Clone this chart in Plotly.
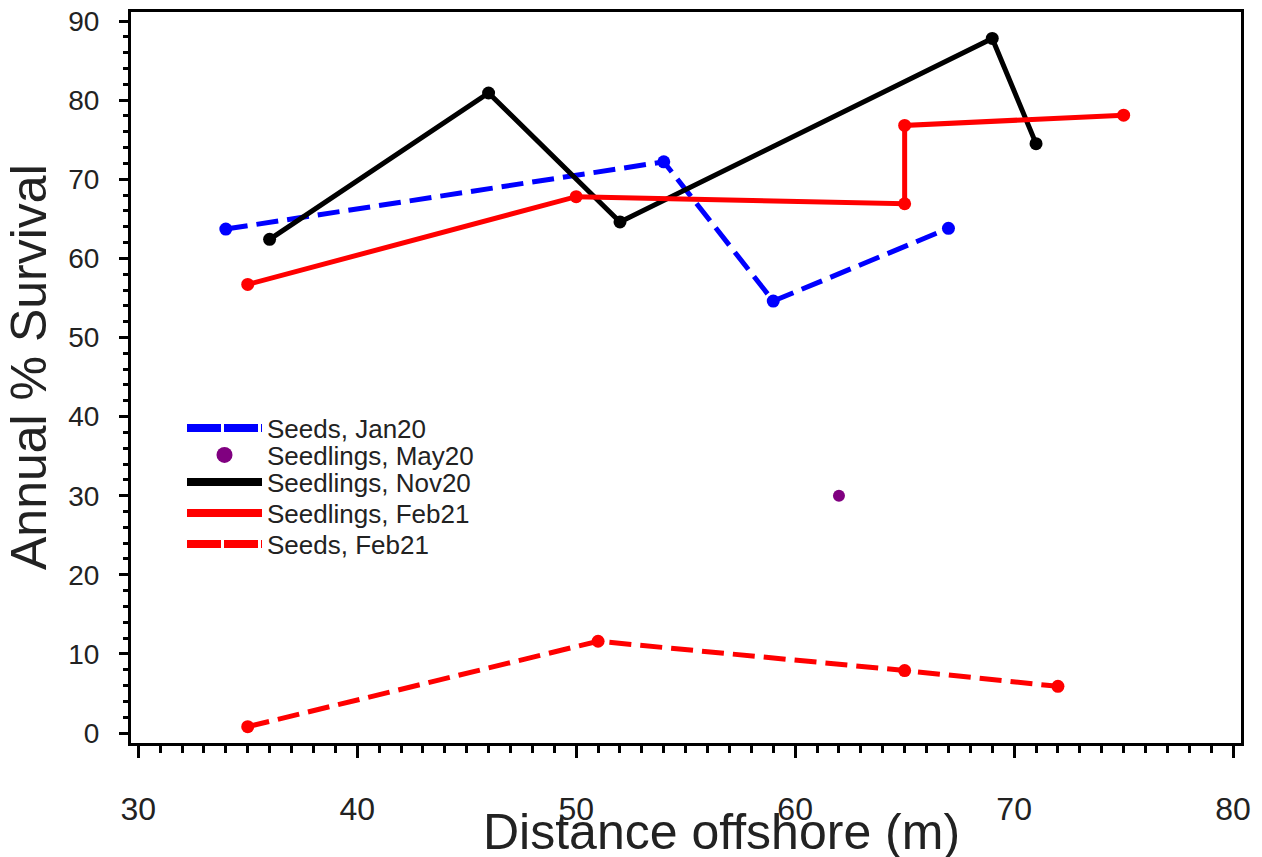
import plotly.graph_objects as go

# Data
seeds_jan20_x = [34, 54, 59, 67]
seeds_jan20_y = [63.7, 72.2, 54.6, 63.8]

seedlings_may20_x = [62]
seedlings_may20_y = [30]

seedlings_nov20_x = [36, 46, 52, 69, 71]
seedlings_nov20_y = [62.4, 80.9, 64.6, 87.8, 74.5]

seedlings_feb21_x = [35, 50, 65, 65, 75]
seedlings_feb21_y = [56.7, 67.8, 66.9, 76.8, 78.1]

seeds_feb21_x = [35, 51, 65, 72]
seeds_feb21_y = [0.8, 11.6, 7.9, 5.9]

x_ticks = [30, 40, 50, 60, 70, 80]
y_ticks = [0, 10, 20, 30, 40, 50, 60, 70, 80, 90]

x_title = "Distance offshore (m)"
y_title = "Annual % Survival"

FONT = "Liberation Sans, Arial, sans-serif"
TXT = "#222222"
DASH = "22px,9px"

fig = go.Figure()

series = [
    ("Seeds, Jan20", seeds_jan20_x, seeds_jan20_y, "blue", DASH),
    ("Seedlings, Nov20", seedlings_nov20_x, seedlings_nov20_y, "black", "solid"),
    ("Seedlings, Feb21", seedlings_feb21_x, seedlings_feb21_y, "red", "solid"),
    ("Seeds, Feb21", seeds_feb21_x, seeds_feb21_y, "red", DASH),
]
for name, xs, ys, col, dash in series:
    fig.add_trace(go.Scatter(x=xs, y=ys, mode="lines+markers", name=name,
                             line=dict(color=col, width=5, dash=dash),
                             marker=dict(color=col, size=13),
                             showlegend=False))

fig.add_trace(go.Scatter(x=seedlings_may20_x, y=seedlings_may20_y, mode="markers",
                         name="Seedlings, May20",
                         marker=dict(color="purple", size=12), showlegend=False))

# legend entries (each in its own legend box for exact spacing)
legend_items = [
    ("Seeds, Jan20", dict(mode="lines", line=dict(color="blue", width=8, dash="34px,3px"))),
    ("Seedlings, May20", dict(mode="markers", marker=dict(color="purple", size=17))),
    ("Seedlings, Nov20", dict(mode="lines", line=dict(color="black", width=8))),
    ("Seedlings, Feb21", dict(mode="lines", line=dict(color="red", width=8))),
    ("Seeds, Feb21", dict(mode="lines", line=dict(color="red", width=8, dash="34px,3px"))),
]
legend_centers_px = [428, 455, 482, 513, 544]
PLOT_LEFT, PLOT_RIGHT = 131, 1241
PLOT_TOP, PLOT_BOTTOM = 12, 743
PW, PH = PLOT_RIGHT - PLOT_LEFT, PLOT_BOTTOM - PLOT_TOP
layout_legends = {}
for i, ((name, kw), cy) in enumerate(zip(legend_items, legend_centers_px)):
    key = "legend" if i == 0 else f"legend{i+1}"
    fig.add_trace(go.Scatter(x=[None], y=[None], name=name, legend=key, **kw))
    layout_legends[key] = dict(
        x=(182 - PLOT_LEFT) / PW, y=(PLOT_BOTTOM - cy) / PH,
        xanchor="left", yanchor="middle",
        font=dict(size=26, color=TXT, family=FONT), bgcolor="rgba(0,0,0,0)",
        itemwidth=75, borderwidth=0)

fig.update_layout(
    width=1254, height=849,
    margin=dict(l=123, r=21, t=4, b=114),
    paper_bgcolor="white", plot_bgcolor="white",
    font=dict(family=FONT, color=TXT),
    showlegend=True,
    xaxis=dict(range=[29.67, 80.36], tickvals=x_ticks, showgrid=False, zeroline=False,
               automargin=False, ticklabeloverflow="allow",
               showline=True, linecolor="black", linewidth=3, mirror=True,
               ticks="outside", ticklen=12, tickwidth=3, tickcolor="black",
               minor=dict(dtick=1, ticks="outside", ticklen=7, tickwidth=3, tickcolor="black"),
               tickfont=dict(size=32, color=TXT), ticklabelstandoff=24),
    yaxis=dict(range=[-1.26, 91.14], tickvals=y_ticks, showgrid=False, zeroline=False,
               automargin=False, ticklabeloverflow="allow",
               showline=True, linecolor="black", linewidth=3, mirror=True,
               ticks="outside", ticklen=9, tickwidth=3, tickcolor="black",
               minor=dict(dtick=2, ticks="outside", ticklen=5, tickwidth=3, tickcolor="black"),
               tickfont=dict(size=28, color=TXT), ticklabelstandoff=14),
    annotations=[
        dict(text=x_title, xref="paper", yref="paper",
             x=(721 - PLOT_LEFT) / PW, y=(PLOT_BOTTOM - 832) / PH,
             xanchor="center", yanchor="middle", showarrow=False, borderpad=0,
             font=dict(size=50, color=TXT, family=FONT)),
        dict(text=y_title, xref="paper", yref="paper", textangle=-90,
             x=(29 - PLOT_LEFT) / PW, y=(PLOT_BOTTOM - 367) / PH,
             xanchor="center", yanchor="middle", showarrow=False, borderpad=0,
             font=dict(size=50, color=TXT, family=FONT)),
    ],
    **layout_legends,
)

fig.write_html("out.html")
